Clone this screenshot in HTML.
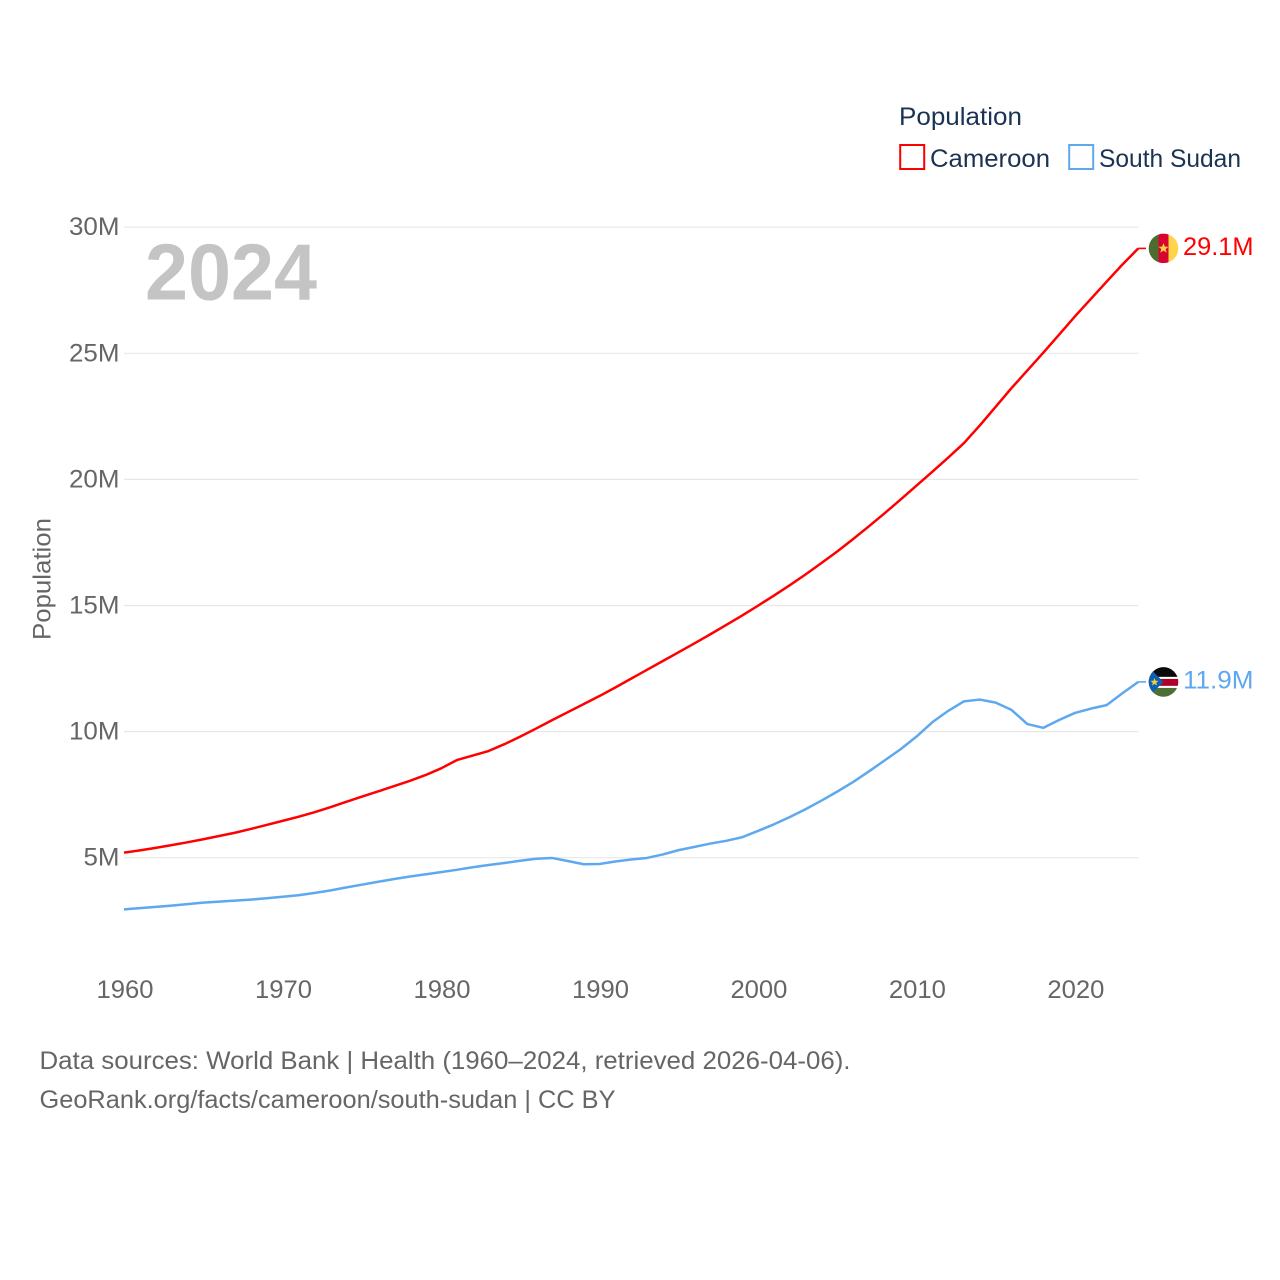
<!DOCTYPE html>
<html lang="en">
<head>
<meta charset="utf-8">
<title>Population: Cameroon and South Sudan</title>
<style>
html,body{margin:0;padding:0;background:#fff;}
svg{display:block;}
text{font-family:"Liberation Sans",sans-serif;}
</style>
</head>
<body>
<svg id="chart" xmlns="http://www.w3.org/2000/svg" width="1280" height="1280" viewBox="0 0 1280 1280">
  <defs>
    <clipPath id="flag-clip"><circle cx="0" cy="0" r="14.8"></circle></clipPath>
  </defs>
  <rect x="0" y="0" width="1280" height="1280" fill="#ffffff"></rect>

  <g id="grid"></g>
  <g id="y-ticks"></g>
  <g id="x-ticks"></g>

  <text transform="translate(50.5,640) rotate(-90)" font-size="25" fill="#666666" textLength="122" lengthAdjust="spacingAndGlyphs">Population</text>

  <text x="145" y="299.5" font-size="80" font-weight="700" fill="#c4c4c4" textLength="172" lengthAdjust="spacingAndGlyphs">2024</text>

  <g id="series"></g>

  <g id="flag-cameroon">
    <g clip-path="url(#flag-clip)">
      <rect x="-15" y="-15" width="10" height="30" fill="#4d6c2f"></rect>
      <rect x="-5" y="-15" width="10" height="30" fill="#d8042f"></rect>
      <rect x="5" y="-15" width="10" height="30" fill="#fdd44b"></rect>
      <polygon points="0,-5.2 1.4,-1.7 5,-1.6 2.2,0.7 3.2,4.2 0,2.2 -3.2,4.2 -2.2,0.7 -5,-1.6 -1.4,-1.7" fill="#f7ce46"></polygon>
    </g>
  </g>

  <g id="flag-south-sudan">
    <g clip-path="url(#flag-clip)">
      <rect x="-15" y="-16" width="30" height="11" fill="#0a0a0a"></rect>
      <rect x="-15" y="-5" width="30" height="2" fill="#ffffff"></rect>
      <rect x="-15" y="-3" width="30" height="7" fill="#b0002a"></rect>
      <rect x="-15" y="4" width="30" height="2" fill="#ffffff"></rect>
      <rect x="-15" y="6" width="30" height="10" fill="#4c6f35"></rect>
      <polygon points="-15,-15 0,0 -15,15" fill="#0f5fb0"></polygon>
      <polygon points="-9,-4 -8,-1.2 -5,-1 -7.3,0.8 -6.5,3.6 -9,2 -11.5,3.6 -10.7,0.8 -13,-1 -10,-1.2" fill="#f5d03d"></polygon>
    </g>
  </g>

  <g id="value-labels"></g>

  <g>
    <text x="899" y="125" font-size="25" fill="#1b3353" textLength="123" lengthAdjust="spacingAndGlyphs">Population</text>
    <g>
      <rect x="900.2" y="145" width="24" height="24" fill="#ffffff" stroke="#ff0000" stroke-width="2"></rect>
      <text x="930" y="167" font-size="25" fill="#1b3353" textLength="120" lengthAdjust="spacingAndGlyphs">Cameroon</text>
    </g>
    <g>
      <rect x="1069.2" y="145" width="24" height="24" fill="#ffffff" stroke="#5ea8ef" stroke-width="2"></rect>
      <text x="1099" y="167" font-size="25" fill="#1b3353" textLength="142" lengthAdjust="spacingAndGlyphs">South Sudan</text>
    </g>
  </g>

  <g>
    <text x="39.5" y="1069" font-size="25" fill="#666666" textLength="811" lengthAdjust="spacingAndGlyphs">Data sources: World Bank | Health (1960–2024, retrieved 2026-04-06).</text>
    <text x="39.5" y="1108" font-size="25" fill="#666666" textLength="576" lengthAdjust="spacingAndGlyphs">GeoRank.org/facts/cameroon/south-sudan | CC BY</text>
  </g>
</svg>

<script>
const firstYear = 1960;
const cameroonValues = [
  5.20, 5.29, 5.39, 5.50, 5.61, 5.73, 5.86, 5.99, 6.14, 6.30,
  6.46, 6.62, 6.80, 7.00, 7.21, 7.42, 7.62, 7.83, 8.04, 8.27,
  8.54, 8.87, 9.05, 9.23, 9.50, 9.80, 10.12, 10.45, 10.77, 11.09,
  11.41, 11.75, 12.10, 12.45, 12.80, 13.15, 13.50, 13.86, 14.23, 14.60,
  14.99, 15.39, 15.80, 16.23, 16.68, 17.14, 17.63, 18.14, 18.66, 19.20,
  19.75, 20.30, 20.86, 21.44, 22.14, 22.88, 23.62, 24.32, 25.02, 25.74,
  26.46, 27.15, 27.84, 28.52, 29.16
];
const southSudanValues = [
  2.95, 3.00, 3.05, 3.10, 3.16, 3.22, 3.26, 3.30, 3.34, 3.39,
  3.45, 3.51, 3.60, 3.70, 3.82, 3.93, 4.04, 4.15, 4.25, 4.34,
  4.43, 4.52, 4.62, 4.71, 4.79, 4.88, 4.96, 4.99, 4.87, 4.74,
  4.75, 4.85, 4.93, 4.99, 5.13, 5.30, 5.43, 5.56, 5.67, 5.81,
  6.06, 6.32, 6.61, 6.92, 7.26, 7.62, 8.00, 8.42, 8.86, 9.30,
  9.80, 10.37, 10.82, 11.20, 11.27, 11.15, 10.86, 10.30, 10.15, 10.46,
  10.74, 10.91, 11.05, 11.52, 11.97
];
const yTickValues = [5, 10, 15, 20, 25, 30];
const yTickLabels = ["5M", "10M", "15M", "20M", "25M", "30M"];
const xTickYears = [1960, 1970, 1980, 1990, 2000, 2010, 2020];
const xTickLabels = ["1960", "1970", "1980", "1990", "2000", "2010", "2020"];
const endLabels = ["29.1M", "11.9M"];

const NS = "http://www.w3.org/2000/svg";
const plotLeft = 124;
const plotRight = 1138.3;
const yearSpan = 64;

function xScale(year) {
  return plotLeft + (year - firstYear) * (plotRight - plotLeft) / yearSpan;
}
function yScale(value) {
  return 857.7 - (value - 5) * 25.22;
}
function svgEl(tag, attrs, parent) {
  const el = document.createElementNS(NS, tag);
  for (const key in attrs) el.setAttribute(key, attrs[key]);
  parent.appendChild(el);
  return el;
}

const gridGroup = document.getElementById("grid");
const yTickGroup = document.getElementById("y-ticks");
yTickValues.forEach(function (value, i) {
  const line = svgEl("line", {
    x1: plotLeft, x2: plotRight, y1: yScale(value), y2: yScale(value),
    stroke: "#e8e8e8", "stroke-width": 1.2
  }, gridGroup);
  
  

  const wide = yTickLabels[i].length > 2;
  const label = svgEl("text", {
    x: wide ? 69 : 83.5, y: yScale(value) + 8, "font-size": 25, fill: "#666666",
    textLength: wide ? 50.5 : 36, lengthAdjust: "spacingAndGlyphs"
  }, yTickGroup);
  
  
  label.textContent = yTickLabels[i];
});

const xTickGroup = document.getElementById("x-ticks");
xTickYears.forEach(function (year, i) {
  const label = svgEl("text", {
    x: xScale(year) - 27.5, y: 998, "font-size": 25, fill: "#666666",
    textLength: 57, lengthAdjust: "spacingAndGlyphs"
  }, xTickGroup);
  
  
  label.textContent = xTickLabels[i];
});

function linePoints(values) {
  return values.map(function (v, i) {
    return xScale(firstYear + i).toFixed(2) + "," + yScale(v).toFixed(2);
  }).join(" ");
}

const seriesGroup = document.getElementById("series");
const cameroonLine = svgEl("polyline", {
  points: linePoints(cameroonValues), fill: "none", stroke: "#ff0000",
  "stroke-width": 2.5, "stroke-linejoin": "round"
}, seriesGroup);



const southSudanLine = svgEl("polyline", {
  points: linePoints(southSudanValues), fill: "none", stroke: "#5ea8ef",
  "stroke-width": 2.5, "stroke-linejoin": "round"
}, seriesGroup);



const cameroonLast = cameroonValues[cameroonValues.length - 1];
const southSudanLast = southSudanValues[southSudanValues.length - 1];

const cameroonLeader = svgEl("line", {
  x1: plotRight, x2: 1146, y1: yScale(cameroonLast), y2: yScale(cameroonLast),
  stroke: "#ff0000", "stroke-width": 1.6
}, seriesGroup);



const southSudanLeader = svgEl("line", {
  x1: plotRight, x2: 1146, y1: yScale(southSudanLast), y2: yScale(southSudanLast),
  stroke: "#5ea8ef", "stroke-width": 1.6
}, seriesGroup);



document.getElementById("flag-cameroon").setAttribute("transform",
  "translate(1163.5," + yScale(cameroonLast) + ")");
document.getElementById("flag-south-sudan").setAttribute("transform",
  "translate(1163.5," + yScale(southSudanLast) + ")");

const labelGroup = document.getElementById("value-labels");
const cameroonLabel = svgEl("text", {
  x: 1183, y: yScale(cameroonLast) + 6.5, "font-size": 25, fill: "#ff0000",
  textLength: 70.5, lengthAdjust: "spacingAndGlyphs"
}, labelGroup);


cameroonLabel.textContent = endLabels[0];

const southSudanLabel = svgEl("text", {
  x: 1183, y: yScale(southSudanLast) + 6.5, "font-size": 25, fill: "#5ea8ef",
  textLength: 70.5, lengthAdjust: "spacingAndGlyphs"
}, labelGroup);


southSudanLabel.textContent = endLabels[1];
</script>
</body>
</html>
